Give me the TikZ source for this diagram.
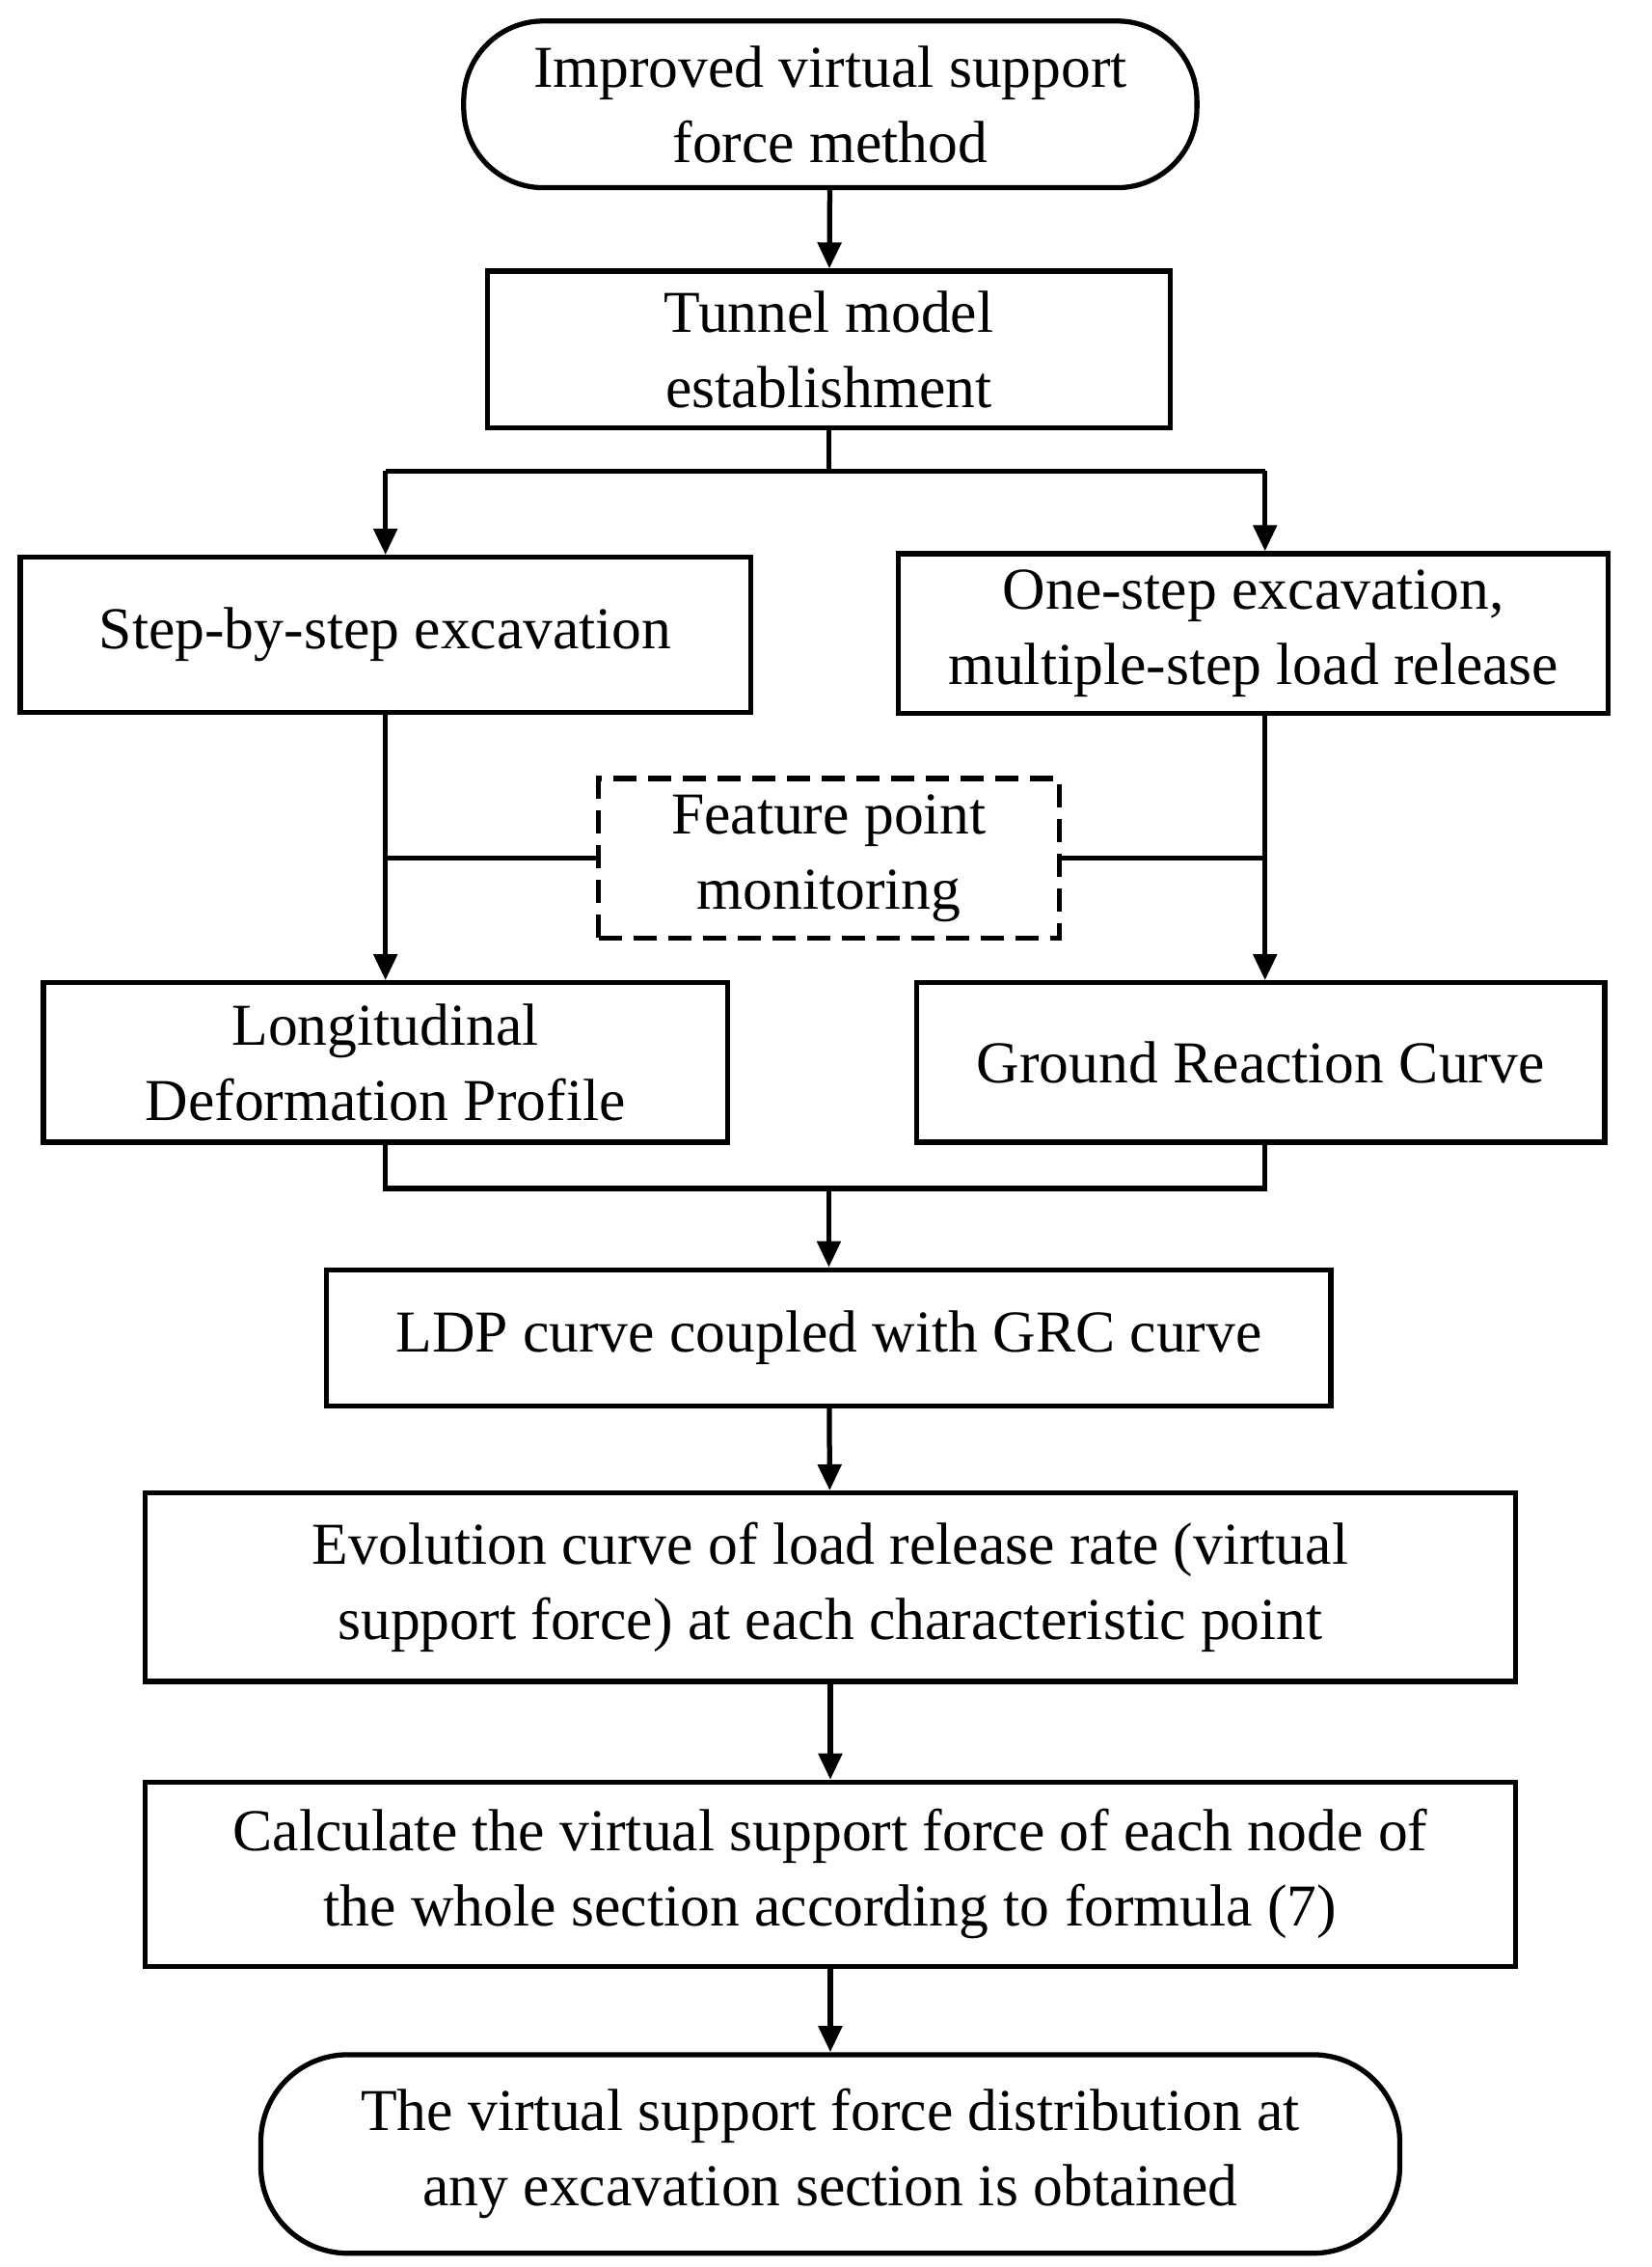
\documentclass[tikz,border=0pt]{standalone}
\usepackage{fontspec}
\setmainfont{Liberation Serif}
\usetikzlibrary{arrows.meta}
\begin{document}
\begin{tikzpicture}[x=1pt,y=-1pt,
  box/.style={draw,line width=3.5pt,align=center,font=\fontsize{41}{52}\selectfont,inner sep=0pt},
  arr/.style={line width=3.5pt,-{Triangle[length=18pt,width=16pt]}},
  ln/.style={line width=3.5pt}]
\useasboundingbox (0,0) rectangle (1140,1564);
\node[box,rounded corners=55pt,minimum width=506pt,minimum height=115pt] (a) at (573,72) {Improved virtual support\\force method};
\node[box,minimum width=471pt,minimum height=108pt] (b) at (572,241) {Tunnel model\\establishment};
\node[box,minimum width=504pt,minimum height=107pt] (c) at (266,438) {Step-by-step excavation};
\node[box,minimum width=490pt,minimum height=110pt] (d) at (865,437) {One-step excavation,\\multiple-step load release};
\node[box,dash pattern=on 16pt off 8pt,minimum width=318pt,minimum height=110pt] (f) at (572,592) {Feature point\\monitoring};
\node[box,minimum width=472pt,minimum height=110pt] (e) at (266,733) {Longitudinal\\Deformation Profile};
\node[box,minimum width=475pt,minimum height=110pt] (g) at (870,733) {Ground Reaction Curve};
\node[box,minimum width=693pt,minimum height=94pt] (h) at (572,923) {LDP curve coupled with GRC curve};
\node[box,minimum width=946pt,minimum height=130pt] (i) at (573,1095) {Evolution curve of load release rate (virtual\\support force) at each characteristic point};
\node[box,minimum width=946pt,minimum height=127pt] (j) at (573,1293) {Calculate the virtual support force of each node of\\the whole section according to formula (7)};
\node[box,rounded corners=60pt,minimum width=786pt,minimum height=137pt] (k) at (573,1486) {The virtual support force distribution at\\any excavation section is obtained};
\coordinate (s1) at (266,325); \coordinate (s2) at (873,325); \coordinate (s0) at (572,325);
\coordinate (m1) at (266,820); \coordinate (m2) at (873,820); \coordinate (m0) at (572,820);
\draw[arr] (a) -- (b);
\draw[ln] (b) -- (s0);
\draw[ln] (s1) -- (s2);
\draw[arr] (s1) -- (c.north -| s1);
\draw[arr] (s2) -- (d.north -| s2);
\draw[arr] (c.south -| s1) -- (e.north -| s1);
\draw[arr] (d.south -| s2) -- (g.north -| s2);
\draw[ln] (f.west) -- (f.west -| s1);
\draw[ln] (f.east) -- (f.east -| s2);
\draw[ln] (e.south -| m1) -- (m1) -- (m2) -- (g.south -| m2);
\draw[arr] (m0) -- (h);
\draw[arr] (h) -- (i);
\draw[arr] (i) -- (j);
\draw[arr] (j) -- (k);
\end{tikzpicture}
\end{document}
